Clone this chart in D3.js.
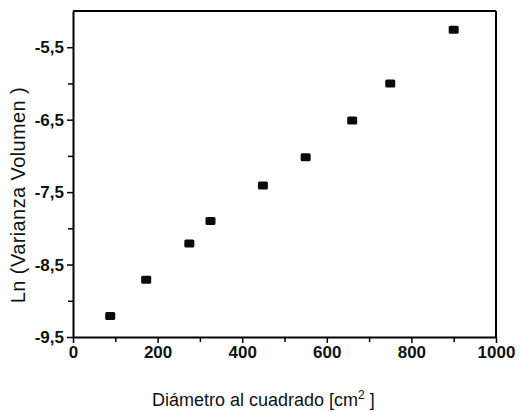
<!DOCTYPE html>
<html>
<head>
<meta charset="utf-8">
<script src="https://cdn.jsdelivr.net/npm/d3@7"></script>
<style>
  body { margin: 0; background: #fff; }
  svg { display: block; font-family: "Liberation Sans", Arial, sans-serif; }
</style>
</head>
<body>
<script>
// data
const diam2 = [88, 173, 275, 325, 449, 550, 660, 750, 900];
const lnVar = [-9.21, -8.71, -8.21, -7.90, -7.41, -7.02, -6.51, -6.00, -5.26];
const xTicks = [0, 200, 400, 600, 800, 1000];
const yTicks = [-9.5, -8.5, -7.5, -6.5, -5.5];

const width = 520, height = 412;
const margin = {top: 11, right: 24, bottom: 75, left: 73};

const svg = d3.select("body").append("svg")
  .attr("width", width)
  .attr("height", height);

const x = d3.scaleLinear().domain([0, 1000]).range([margin.left, width - margin.right]);
const y = d3.scaleLinear().domain([-9.5, -5.0]).range([height - margin.bottom, margin.top]);

let fmt = d => d3.format(".1f")(d).replace(".", ",").replace("−", "-");

// minor ticks
svg.append("g")
  .attr("transform", `translate(0,${y.range()[0]})`)
  .call(d3.axisBottom(x).tickValues(d3.range(100, 1000, 200)).tickSize(5).tickFormat(""))
  .call(g => g.select(".domain").remove())
  .selectAll("line").attr("stroke-width", 1.5);

svg.append("g")
  .attr("transform", `translate(${x.range()[0]},0)`)
  .call(d3.axisLeft(y).tickValues(d3.range(-9.0, -5.0, 1)).tickSize(5).tickFormat(""))
  .call(g => g.select(".domain").remove())
  .selectAll("line").attr("stroke-width", 1.5);

// main axes
let xAxis = svg.append("g")
  .attr("transform", `translate(0,${y.range()[0]})`)
  .call(d3.axisBottom(x).tickValues(xTicks).tickSize(6).tickSizeOuter(0).tickPadding(3).tickFormat(d3.format("d")));
xAxis.select(".domain").attr("stroke-width", 2);
xAxis.selectAll("line").attr("stroke-width", 1.5);
xAxis.selectAll("text")
  .attr("font-size", 17).attr("font-weight", "bold").attr("fill", "#111")
  .attr("font-family", "'Liberation Sans', Arial, sans-serif");

let yAxis = svg.append("g")
  .attr("transform", `translate(${x.range()[0]},0)`)
  .call(d3.axisLeft(y).tickValues(yTicks).tickSize(6).tickSizeOuter(0).tickPadding(3).tickFormat(fmt));
yAxis.select(".domain").attr("stroke-width", 2);
yAxis.selectAll("line").attr("stroke-width", 1.5);
yAxis.selectAll("text")
  .attr("font-size", 17).attr("font-weight", "bold").attr("fill", "#111")
  .attr("font-family", "'Liberation Sans', Arial, sans-serif");

// top and right frame
svg.append("line")
  .attr("x1", x(0)).attr("x2", x(1000)).attr("y1", y(-5.0)).attr("y2", y(-5.0))
  .attr("stroke", "#000").attr("stroke-width", 2);
svg.append("line")
  .attr("x1", x(1000)).attr("x2", x(1000)).attr("y1", y(-5.0)).attr("y2", y(-9.5))
  .attr("stroke", "#000").attr("stroke-width", 2);

// points
svg.append("g")
  .selectAll("rect")
  .data(diam2)
  .enter().append("rect")
    .attr("x", d => x(d) - 5)
    .attr("y", (d, i) => y(lnVar[i]) - 4)
    .attr("width", 10)
    .attr("height", 8)
    .attr("rx", 1.5)
    .attr("fill", "#0a0a0a");

// axis titles
let xt = svg.append("text")
  .attr("x", 152)
  .attr("y", 406)
  .attr("font-size", 18)
  .attr("fill", "#111");
xt.append("tspan").text("Diámetro al cuadrado [cm");
xt.append("tspan").attr("font-size", 12).attr("dy", -7).text("2");
xt.append("tspan").attr("dy", 7).text(" ]");

svg.append("text")
  .attr("transform", `translate(25,195) rotate(-90)`)
  .attr("text-anchor", "middle")
  .attr("font-size", 20)
  .attr("letter-spacing", 0.4)
  .attr("fill", "#111")
  .text("Ln (Varianza Volumen )");
</script>
</body>
</html>
